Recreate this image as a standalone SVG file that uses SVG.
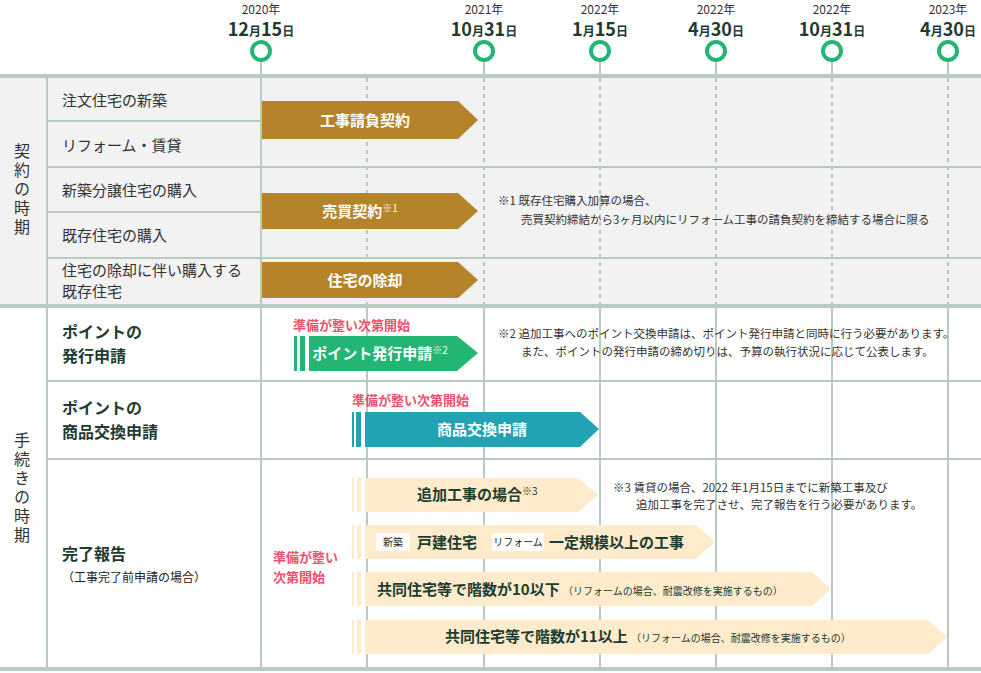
<svg xmlns="http://www.w3.org/2000/svg" width="981" height="673" viewBox="0 0 981 673">
<style>
text{font-family:"Noto Sans CJK JP","Noto Sans",sans-serif;fill:#222}
.yr{font-size:12px;fill:#333;text-anchor:middle}
.dt{font-size:18px;font-weight:bold;fill:#1d3b2e;text-anchor:middle}
.dt tspan.s{font-size:12px}
.lbl{font-size:15px;fill:#333}
.cat{font-size:16px;fill:#333;writing-mode:vertical-rl;letter-spacing:3px}
.big{font-size:16px;font-weight:bold;fill:#1d3b2e}
.bw{font-size:15px;font-weight:bold;fill:#fff;text-anchor:middle}
.bd{font-size:15px;font-weight:bold;fill:#1d3b2e}
.sm{font-size:10px}
.note{font-size:11.5px;fill:#333}
.red{font-size:13px;fill:#f0506e;font-weight:bold}
.g{stroke:#b7cbc0;fill:none}
.dash{stroke:#b7cbc0;stroke-dasharray:4 4;stroke-width:2}
.circ{fill:#fff;stroke:#22b573;stroke-width:4}
.brown{fill:#b5832a}
.cream{fill:#fdebcc}
</style>
<rect width="981" height="673" fill="#fff"/>
<rect x="0" y="77" width="981" height="229" fill="#f2f2f2"/>
<g id="grid">
<line class="dash" x1="367" y1="78" x2="367" y2="305"/>
<line class="dash" x1="484" y1="78" x2="484" y2="305"/>
<line class="dash" x1="600" y1="78" x2="600" y2="305"/>
<line class="dash" x1="716" y1="78" x2="716" y2="305"/>
<line class="dash" x1="832" y1="78" x2="832" y2="305"/>
<line class="dash" x1="948" y1="78" x2="948" y2="305"/>
<g class="g" stroke-width="2">
<line x1="367" y1="308" x2="367" y2="668"/><line x1="484" y1="308" x2="484" y2="668"/>
<line x1="600" y1="308" x2="600" y2="668"/><line x1="716" y1="308" x2="716" y2="668"/>
<line x1="832" y1="308" x2="832" y2="668"/><line x1="948" y1="308" x2="948" y2="668"/>
<line x1="261" y1="60" x2="261" y2="668"/>
<line x1="47" y1="77" x2="47" y2="668"/>
<line x1="47" y1="121" x2="261" y2="121"/><line x1="47" y1="212" x2="261" y2="212"/>
<line x1="47" y1="167" x2="981" y2="167"/><line x1="47" y1="258" x2="981" y2="258"/>
<line x1="47" y1="381" x2="981" y2="381"/><line x1="47" y1="459" x2="981" y2="459"/>
<line x1="484" y1="60" x2="484" y2="76"/><line x1="600" y1="60" x2="600" y2="76"/>
<line x1="716" y1="60" x2="716" y2="76"/><line x1="832" y1="60" x2="832" y2="76"/>
<line x1="948" y1="60" x2="948" y2="76"/>
</g>
<g class="g" stroke-width="4">
<line x1="0" y1="76" x2="981" y2="76"/><line x1="0" y1="306" x2="981" y2="306"/><line x1="0" y1="669" x2="981" y2="669"/>
</g>
</g>
<g id="timeline">
<text class="yr" x="261" y="14">2020年</text><text class="dt" x="261" y="36">12<tspan class="s">月</tspan>15<tspan class="s">日</tspan></text><circle class="circ" cx="261" cy="51" r="9"/>
<text class="yr" x="484" y="14">2021年</text><text class="dt" x="484" y="36">10<tspan class="s">月</tspan>31<tspan class="s">日</tspan></text><circle class="circ" cx="484" cy="51" r="9"/>
<text class="yr" x="600" y="14">2022年</text><text class="dt" x="600" y="36">1<tspan class="s">月</tspan>15<tspan class="s">日</tspan></text><circle class="circ" cx="600" cy="51" r="9"/>
<text class="yr" x="716" y="14">2022年</text><text class="dt" x="716" y="36">4<tspan class="s">月</tspan>30<tspan class="s">日</tspan></text><circle class="circ" cx="716" cy="51" r="9"/>
<text class="yr" x="832" y="14">2022年</text><text class="dt" x="832" y="36">10<tspan class="s">月</tspan>31<tspan class="s">日</tspan></text><circle class="circ" cx="832" cy="51" r="9"/>
<text class="yr" x="948" y="14">2023年</text><text class="dt" x="948" y="36">4<tspan class="s">月</tspan>30<tspan class="s">日</tspan></text><circle class="circ" cx="948" cy="51" r="9"/>
</g>
<g id="labels">
<text class="cat" x="22" y="143">契約の時期</text>
<text class="cat" x="22" y="432">手続きの時期</text>
<text class="lbl" x="62" y="106">注文住宅の新築</text>
<text class="lbl" x="62" y="151">リフォーム・賃貸</text>
<text class="lbl" x="62" y="196">新築分譲住宅の購入</text>
<text class="lbl" x="62" y="241">既存住宅の購入</text>
<text class="lbl" x="62" y="276" font-size="12.5">住宅の除却に伴い購入する</text>
<text class="lbl" x="62" y="297">既存住宅</text>
<text class="big" x="62" y="338">ポイントの</text><text class="big" x="62" y="362">発行申請</text>
<text class="big" x="62" y="414">ポイントの</text><text class="big" x="62" y="438">商品交換申請</text>
<text class="big" x="62" y="560">完了報告</text>
<text x="62" y="582" font-size="12" fill="#333">（工事完了前申請の場合）</text>
</g>
<g id="bars">
<polygon class="brown" points="262,101 458,101 478,120 458,139 262,139"/>
<text class="bw" x="365" y="126">工事請負契約</text>
<polygon class="brown" points="262,193 458,193 478,211 458,229 262,229"/>
<text class="bw" x="360" y="217">売買契約<tspan class="sm" font-weight="normal" dy="-5">※1</tspan></text>
<polygon class="brown" points="262,262 458,262 478,280 458,298 262,298"/>
<text class="bw" x="365" y="286">住宅の除却</text>

<text class="red" x="293" y="330">準備が整い次第開始</text>
<rect x="294" y="336" width="3" height="35" fill="#22b573"/><rect x="300" y="336" width="5" height="35" fill="#22b573"/>
<polygon fill="#22b573" points="309,336 457,336 478,353 457,371 309,371"/>
<text class="bw" x="380" y="359">ポイント発行申請<tspan class="sm" font-weight="normal" dy="-5">※2</tspan></text>

<text class="red" x="352" y="405">準備が整い次第開始</text>
<rect x="352" y="412" width="2" height="35" fill="#22a3b3"/><rect x="356" y="412" width="5" height="35" fill="#22a3b3"/>
<polygon fill="#22a3b3" points="365,412 580,412 599,429 580,447 365,447"/>
<text class="bw" x="482" y="435">商品交換申請</text>

<text class="red" x="273" y="562">準備が整い</text><text class="red" x="273" y="582">次第開始</text>
<g class="cream">
<rect x="352" y="478" width="2" height="34"/><rect x="357" y="478" width="4" height="34"/>
<polygon points="365,478 578,478 598,495 578,512 365,512"/>
<rect x="352" y="525" width="2" height="34"/><rect x="357" y="525" width="4" height="34"/>
<polygon points="365,525 696,525 715,542 696,559 365,559"/>
<rect x="352" y="572" width="2" height="34"/><rect x="357" y="572" width="4" height="34"/>
<polygon points="365,572 812,572 831,589 812,606 365,606"/>
<rect x="352" y="620" width="2" height="34"/><rect x="357" y="620" width="4" height="34"/>
<polygon points="365,620 928,620 947,637 928,654 365,654"/>
</g>
<text class="bd" x="417" y="500">追加工事の場合<tspan class="sm" font-weight="normal" dy="-5">※3</tspan></text>
<rect x="376" y="533" width="34" height="18" fill="#fff"/><text x="393" y="546" font-size="10" text-anchor="middle">新築</text>
<text class="bd" x="417" y="548">戸建住宅</text>
<rect x="492" y="533" width="52" height="18" fill="#fff"/><text x="518" y="546" font-size="10" text-anchor="middle">リフォーム</text>
<text class="bd" x="549" y="548">一定規模以上の工事</text>
<text class="bd" x="377" y="595">共同住宅等で階数が10以下 <tspan font-size="10" font-weight="normal">（リフォームの場合、耐震改修を実施するもの）</tspan></text>
<text class="bd" x="445" y="642">共同住宅等で階数が11以上 <tspan font-size="10" font-weight="normal">（リフォームの場合、耐震改修を実施するもの）</tspan></text>
</g>
<g id="notes">
<text class="note" x="498" y="205">※1 既存住宅購入加算の場合、</text>
<text class="note" x="521" y="224">売買契約締結から3ヶ月以内にリフォーム工事の請負契約を締結する場合に限る</text>
<text class="note" x="498" y="338">※2 追加工事へのポイント交換申請は、ポイント発行申請と同時に行う必要があります。</text>
<text class="note" x="521" y="356">また、ポイントの発行申請の締め切りは、予算の執行状況に応じて公表します。</text>
<text class="note" x="613" y="492">※3 賃貸の場合、2022 年1月15日までに新築工事及び</text>
<text class="note" x="636" y="509">追加工事を完了させ、完了報告を行う必要があります。</text>
</g>
</svg>
